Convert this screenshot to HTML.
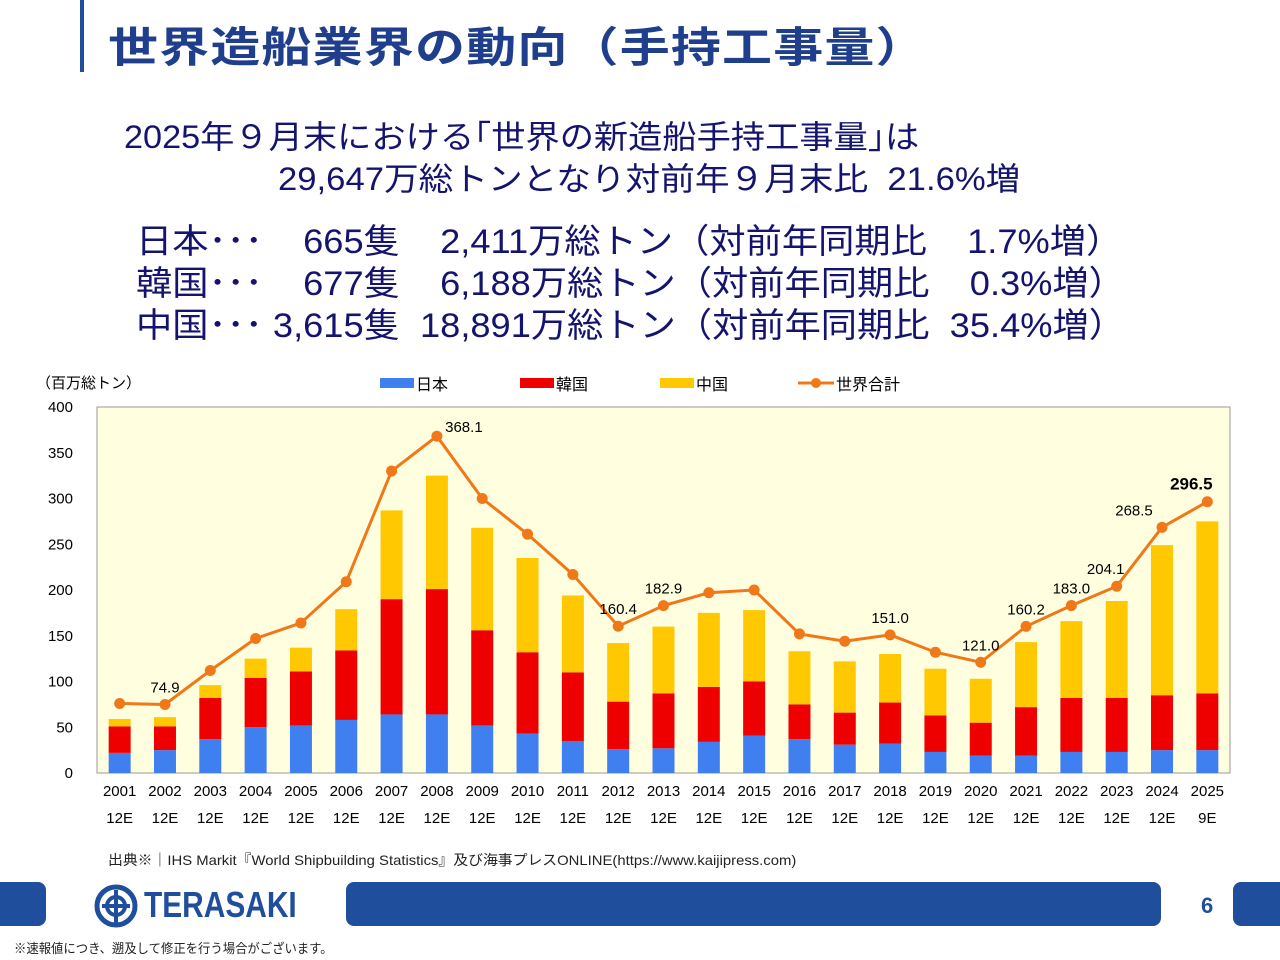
<!DOCTYPE html>
<html><head><meta charset="utf-8"><style>
body{margin:0;width:1280px;height:960px;background:#fff;position:relative;overflow:hidden;font-family:"Liberation Sans","Noto Sans CJK JP",sans-serif;}
.abs{position:absolute;white-space:pre;}
</style></head><body>
<div class="abs" style="left:80px;top:0;width:4px;height:72px;background:#1f4e9c"></div>
<div class="abs" style="left:108px;top:14px;font-size:42px;font-weight:bold;color:#1f3f8c;letter-spacing:1px;transform:scaleX(1.19);transform-origin:left">世界造船業界の動向（手持工事量）</div>
<div class="abs" style="left:124px;top:112px;font-size:32px;color:#14146e;transform:scaleX(1.07);transform-origin:left">2025年９月末における｢世界の新造船手持工事量｣は</div>
<div class="abs" style="left:278px;top:154px;font-size:32px;color:#14146e;transform:scaleX(1.083);transform-origin:left">29,647万総トンとなり対前年９月末比  21.6%増</div>
<div class="abs" style="left:136px;top:214px;font-size:34px;color:#14146e;transform:scaleX(1.066);transform-origin:left">日本･･･    665隻    2,411万総トン（対前年同期比    1.7%増）</div>
<div class="abs" style="left:136px;top:256px;font-size:34px;color:#14146e;transform:scaleX(1.066);transform-origin:left">韓国･･･    677隻    6,188万総トン（対前年同期比    0.3%増）</div>
<div class="abs" style="left:136px;top:298px;font-size:34px;color:#14146e;transform:scaleX(1.066);transform-origin:left">中国･･･ 3,615隻  18,891万総トン（対前年同期比  35.4%増）</div>
<svg class="abs" style="left:0;top:0" width="1280" height="960" id="chart"></svg>
<div class="abs" style="left:108px;top:850px;font-size:14px;color:#222;transform:scaleX(1.06);transform-origin:left">出典※｜IHS Markit『World Shipbuilding Statistics』及び海事プレスONLINE(https://www.kaijipress.com)</div>
<div class="abs" style="left:-10px;top:882px;width:56px;height:44px;background:#1f4e9c;border-radius:8px"></div>
<div class="abs" style="left:346px;top:882px;width:815px;height:44px;background:#1f4e9c;border-radius:8px"></div>
<div class="abs" style="left:1233px;top:882px;width:60px;height:44px;background:#1f4e9c;border-radius:8px"></div>
<div class="abs" style="left:1201px;top:893px;font-size:22px;font-weight:bold;color:#1f4e9c">6</div>
<svg class="abs" style="left:94px;top:884px" width="44" height="44"><circle cx="22" cy="22" r="19" fill="none" stroke="#1f4e9c" stroke-width="5"/><circle cx="22" cy="22" r="9" fill="none" stroke="#1f4e9c" stroke-width="4"/><rect x="20" y="6" width="4" height="34" fill="#1f4e9c"/><rect x="8" y="20" width="28" height="4" fill="#1f4e9c"/></svg>
<div class="abs" style="left:144px;top:884px;font-size:36px;font-weight:bold;color:#1f4e9c;transform:scaleX(0.83);transform-origin:left">TERASAKI</div>
<div class="abs" style="left:14px;top:938px;font-size:13px;color:#222;transform:scaleX(0.95);transform-origin:left">※速報値につき、遡及して修正を行う場合がございます。</div>
<script>
const years=["2001","2002","2003","2004","2005","2006","2007","2008","2009","2010","2011","2012","2013","2014","2015","2016","2017","2018","2019","2020","2021","2022","2023","2024","2025"];
const subs=["12E","12E","12E","12E","12E","12E","12E","12E","12E","12E","12E","12E","12E","12E","12E","12E","12E","12E","12E","12E","12E","12E","12E","12E","9E"];
const japan=[22,25,37,50,52,58,64,64,52,43,35,26,27,34,41,37,31,32,23,19,19,23,23,25,25];
const korea=[29,26,45,54,59,76,126,137,104,89,75,52,60,60,59,38,35,45,40,36,53,59,59,60,62];
const china=[8,10,14,21,26,45,97,124,112,103,84,64,73,81,78,58,56,53,51,48,71,84,106,164,188];
const total=[76,74.9,112,147,164,209,330,368.1,300,261,217,160.4,182.9,197,200,152,144,151,132,121,160.2,183.0,204.1,268.5,296.5];
const labeled=[1,7,11,12,17,19,20,21,22,23,24];
const yTicks=[0,50,100,150,200,250,300,350,400];
const svg=document.getElementById('chart');
const NS="http://www.w3.org/2000/svg";
const X0=97,X1=1230,Y0=773,Y1=407;
const y=v=>Y0-(v/400)*(Y0-Y1);
const step=(X1-X0)/years.length;
const x=i=>X0+step*(i+0.5);
const labelShift={7:[27,8],22:[-11,0],23:[-28,0],24:[-16,0]};
function mk(t,a,txt){const e=document.createElementNS(NS,t);for(const k in a)e.setAttribute(k,a[k]);if(txt!==undefined)e.textContent=txt;svg.appendChild(e);return e;}
let e=mk('rect',{x:X0,y:Y1,width:X1-X0,height:Y0-Y1,fill:'#ffffe0',stroke:'#999','stroke-width':1});

yTicks.forEach(t=>{let l=mk('text',{x:73,y:y(t)+5,'text-anchor':'end','font-size':15,fill:'#000'},t);
});
e=mk('text',{x:36,y:388,'font-size':15,fill:'#000'},'（百万総トン）');

const bw=22;
years.forEach((yr,i)=>{
 const segs=[[japan[i],'#3f7ff0'],[korea[i],'#ee0000'],[china[i],'#ffc800']];let base=0;
 segs.forEach(([v,c],k)=>{let r=mk('rect',{x:x(i)-bw/2,y:y(base+v),width:bw,height:y(base)-y(base+v),fill:c});
  base+=v;});
 let t=mk('text',{x:x(i),y:796,'text-anchor':'middle','font-size':15,fill:'#000'},yr);
 
 t=mk('text',{x:x(i),y:823,'text-anchor':'middle','font-size':15,fill:'#000'},subs[i]);
 
});
e=mk('polyline',{points:total.map((v,i)=>x(i)+','+y(v)).join(' '),fill:'none',stroke:'#f07818','stroke-width':3});

total.forEach((v,i)=>{let c=mk('circle',{cx:x(i),cy:y(v),r:5.5,fill:'#f07818'});
 });
labeled.forEach(i=>{const last=i===total.length-1;const sh=labelShift[i]||[0,0];let t=mk('text',{x:x(i)+sh[0],y:y(total[i])-12+sh[1],'text-anchor':'middle','font-size':last?17:15,'font-weight':last?'bold':'normal',fill:'#000'},total[i].toFixed(1));
 });
const leg=[['日本','#3f7ff0',380],['韓国','#ee0000',520],['中国','#ffc800',660]];
leg.forEach(([n,c,lx])=>{let r=mk('rect',{x:lx,y:378,width:34,height:10,fill:c});
 let t=mk('text',{x:lx+36,y:390,'font-size':16,fill:'#000'},n);});
e=mk('line',{x1:798,y1:383,x2:834,y2:383,stroke:'#f07818','stroke-width':3});
e=mk('circle',{cx:816,cy:383,r:5,fill:'#f07818'});
e=mk('text',{x:836,y:390,'font-size':16,fill:'#000'},'世界合計');
</script>
</body></html>
